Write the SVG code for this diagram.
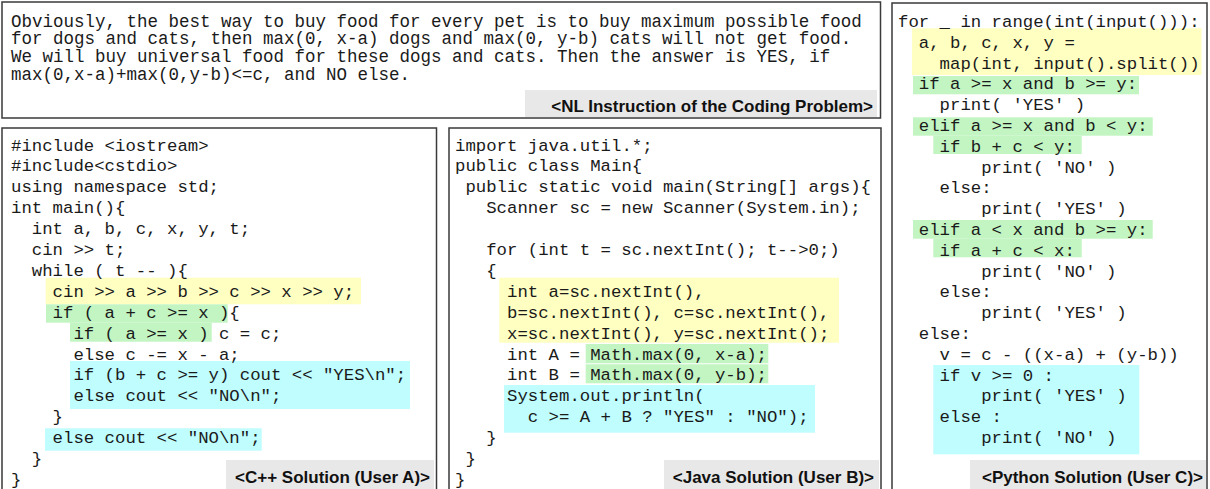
<svg xmlns="http://www.w3.org/2000/svg" width="1210" height="489" viewBox="0 0 1210 489">
<style>
.panel{fill:#ffffff;stroke:#3a3a3a;stroke-width:1.5}
.code{font-family:"Liberation Mono","Courier New",monospace;font-size:17.33px;fill:#1a1a1a;white-space:pre}
.nl{font-family:"Liberation Mono","Courier New",monospace;font-size:17.5px;fill:#1a1a1a}
.lbg{fill:#e8e8e8}
.lbl{font-family:"Liberation Sans",Arial,Helvetica,sans-serif;font-size:17px;font-weight:bold;fill:#111;text-anchor:end}
.hy{fill:#ffffc2}
.hg{fill:#c2f5c2}
.hc{fill:#bffdff}
</style>
<rect width="1210" height="489" fill="#ffffff"/>

<g id="nl-instruction">
<rect class="panel" x="2" y="2" width="878.5" height="116"/>
<text class="nl" x="11" y="26.5">Obviously, the best way to buy food for every pet is to buy maximum possible food</text>
<text class="nl" x="11" y="44.3">for dogs and cats, then max(0, x-a) dogs and max(0, y-b) cats will not get food.</text>
<text class="nl" x="11" y="62.1">We will buy universal food for these dogs and cats. Then the answer is YES, if</text>
<text class="nl" x="11" y="79.9">max(0,x-a)+max(0,y-b)&lt;=c, and NO else.</text>
<rect class="lbg" x="525" y="90" width="352" height="27"/>
<text class="lbl" x="873" y="111.5">&lt;NL Instruction of the Coding Problem&gt;</text>
</g>

<g id="cpp-solution">
<rect class="panel" x="2" y="128" width="434.5" height="370"/>
<rect class="hy" x="45.7" y="277.7" width="315.3" height="26.6"/>
<rect class="hg" x="46" y="304.3" width="181.7" height="18.4"/>
<rect class="hg" x="70" y="322.7" width="141.7" height="19"/>
<rect class="hc" x="70" y="361" width="340" height="48"/>
<rect class="hc" x="45" y="428.3" width="216.7" height="22.4"/>
<text class="code" x="11" y="150.5">#include &lt;iostream&gt;</text>
<text class="code" x="11" y="171.4">#include&lt;cstdio&gt;</text>
<text class="code" x="11" y="192.3">using namespace std;</text>
<text class="code" x="11" y="213.2">int main(){</text>
<text class="code" x="31.8" y="234.1">int a, b, c, x, y, t;</text>
<text class="code" x="31.8" y="255">cin &gt;&gt; t;</text>
<text class="code" x="31.8" y="275.9">while ( t -- ){</text>
<text class="code" x="52.6" y="296.8">cin &gt;&gt; a &gt;&gt; b &gt;&gt; c &gt;&gt; x &gt;&gt; y;</text>
<text class="code" x="52.6" y="317.7">if ( a + c &gt;= x ){</text>
<text class="code" x="73.4" y="338.6">if ( a &gt;= x ) c = c;</text>
<text class="code" x="73.4" y="359.5">else c -= x - a;</text>
<text class="code" x="73.4" y="380.4">if (b + c &gt;= y) cout &lt;&lt; "YES\n";</text>
<text class="code" x="73.4" y="401.3">else cout &lt;&lt; "NO\n";</text>
<text class="code" x="52.6" y="422.2">}</text>
<text class="code" x="52.6" y="443.1">else cout &lt;&lt; "NO\n";</text>
<text class="code" x="31.8" y="464">}</text>
<text class="code" x="11" y="484.9">}</text>
<rect class="lbg" x="226" y="460" width="208" height="30"/>
<text class="lbl" x="430" y="483.3">&lt;C++ Solution (User A)&gt;</text>
</g>

<g id="java-solution">
<rect class="panel" x="449" y="128" width="432" height="370"/>
<rect class="hy" x="499.3" y="277.7" width="339.7" height="65"/>
<rect class="hg" x="585.7" y="344" width="182.6" height="19.3"/>
<rect class="hg" x="585.7" y="364.3" width="182.6" height="19"/>
<rect class="hc" x="504" y="385" width="311" height="47.7"/>
<text class="code" x="455" y="150.5">import java.util.*;</text>
<text class="code" x="455" y="171.4">public class Main{</text>
<text class="code" x="465.4" y="192.3">public static void main(String[] args){</text>
<text class="code" x="486.2" y="213.2">Scanner sc = new Scanner(System.in);</text>
<text class="code" x="486.2" y="255">for (int t = sc.nextInt(); t--&gt;0;)</text>
<text class="code" x="486.2" y="275.9">{</text>
<text class="code" x="507" y="296.8">int a=sc.nextInt(),</text>
<text class="code" x="507" y="317.7">b=sc.nextInt(), c=sc.nextInt(),</text>
<text class="code" x="507" y="338.6">x=sc.nextInt(), y=sc.nextInt();</text>
<text class="code" x="507" y="359.5">int A = Math.max(0, x-a);</text>
<text class="code" x="507" y="380.4">int B = Math.max(0, y-b);</text>
<text class="code" x="507" y="401.3">System.out.println(</text>
<text class="code" x="527.8" y="422.2">c &gt;= A + B ? "YES" : "NO");</text>
<text class="code" x="486.2" y="443.1">}</text>
<text class="code" x="465.4" y="464">}</text>
<text class="code" x="455" y="484.9">}</text>
<rect class="lbg" x="664" y="460" width="215" height="30"/>
<text class="lbl" x="874" y="483.3">&lt;Java Solution (User B)&gt;</text>
</g>

<g id="python-solution">
<rect class="panel" x="892" y="3" width="315" height="495"/>
<rect class="hy" x="912" y="28.3" width="289.5" height="46.7"/>
<rect class="hg" x="913" y="76" width="226" height="18.3"/>
<rect class="hg" x="913" y="117.3" width="239.7" height="18.4"/>
<rect class="hg" x="933.3" y="135.7" width="148.4" height="18.3"/>
<rect class="hg" x="913" y="220" width="239.7" height="18.7"/>
<rect class="hg" x="933.3" y="238.7" width="148.4" height="18.6"/>
<rect class="hc" x="933.3" y="365" width="206" height="89.3"/>
<text class="code" x="898" y="27">for _ in range(int(input())):</text>
<text class="code" x="918.8" y="47.8">a, b, c, x, y =</text>
<text class="code" x="939.6" y="68.6">map(int, input().split())</text>
<text class="code" x="918.8" y="89.4">if a &gt;= x and b &gt;= y:</text>
<text class="code" x="939.6" y="110.2">print( 'YES' )</text>
<text class="code" x="918.8" y="131">elif a &gt;= x and b &lt; y:</text>
<text class="code" x="939.6" y="151.8">if b + c &lt; y:</text>
<text class="code" x="981.2" y="172.6">print( 'NO' )</text>
<text class="code" x="939.6" y="193.4">else:</text>
<text class="code" x="981.2" y="214.2">print( 'YES' )</text>
<text class="code" x="918.8" y="235">elif a &lt; x and b &gt;= y:</text>
<text class="code" x="939.6" y="255.8">if a + c &lt; x:</text>
<text class="code" x="981.2" y="276.6">print( 'NO' )</text>
<text class="code" x="939.6" y="297.4">else:</text>
<text class="code" x="981.2" y="318.2">print( 'YES' )</text>
<text class="code" x="918.8" y="339">else:</text>
<text class="code" x="939.6" y="359.8">v = c - ((x-a) + (y-b))</text>
<text class="code" x="939.6" y="380.6">if v &gt;= 0 :</text>
<text class="code" x="981.2" y="401.4">print( 'YES' )</text>
<text class="code" x="939.6" y="422.2">else :</text>
<text class="code" x="981.2" y="443">print( 'NO' )</text>
<rect class="lbg" x="970" y="460" width="236" height="30"/>
<text class="lbl" x="1203" y="483">&lt;Python Solution (User C)&gt;</text>
</g>

<g id="connectors"/>
</svg>
